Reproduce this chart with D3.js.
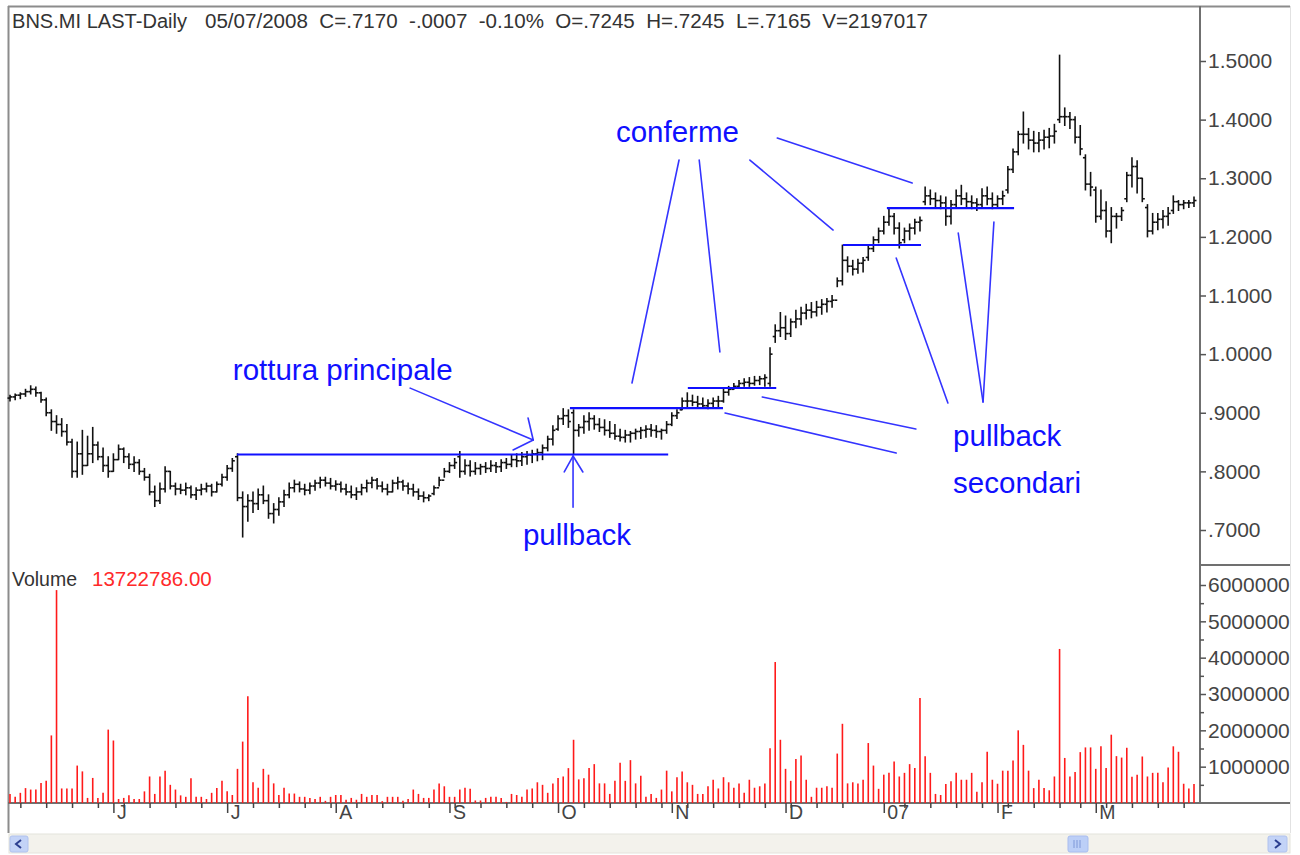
<!DOCTYPE html>
<html><head><meta charset="utf-8">
<script src="https://cdn.jsdelivr.net/npm/d3@7"></script>
<style>
body{margin:0;background:#fff;}
svg{display:block;font-family:"Liberation Sans",Arial,sans-serif;}
</style>
</head><body>
<svg id="c" width="1300" height="855"></svg>
<script>
// ---------- DATA (bar index 0 = 4 May 2006) ----------
const high = [
.930,.932,.934,.940,.946,.944,.935,.925,.905,.895,
.890,.880,.855,.850,.870,.860,.875,.850,.840,.825,
.830,.845,.840,.830,.825,.820,.805,.795,.775,.780,
.808,.800,.780,.778,.780,.775,.772,.778,.780,.778,
.782,.795,.810,.822,.830,.765,.760,.765,.770,.775,
.760,.745,.755,.768,.780,.785,.782,.778,.780,.785,
.790,.790,.788,.784,.782,.778,.775,.772,.778,.785,
.790,.788,.782,.778,.785,.790,.785,.780,.778,.770,
.765,.760,.775,.790,.805,.815,.822,.834,.820,.818,
.815,.812,.815,.818,.815,.820,.822,.828,.830,.832,
.834,.836,.838,.845,.860,.878,.895,.907,.905,.905,
.880,.895,.900,.895,.890,.888,.885,.880,.872,.870,
.868,.872,.875,.878,.880,.878,.872,.885,.900,.905,
.925,.934,.930,.928,.925,.922,.925,.928,.940,.945,
.950,.955,.958,.960,.962,.962,.965,1.011,1.050,1.071,
1.065,1.060,1.075,1.080,1.085,1.088,1.090,1.093,1.095,1.100,
1.130,1.186,1.166,1.160,1.162,1.165,1.185,1.200,1.215,1.235,
1.250,1.240,1.224,1.215,1.222,1.230,1.234,1.285,1.280,1.275,
1.270,1.268,1.262,1.280,1.288,1.275,1.270,1.265,1.282,1.285,
1.275,1.270,1.278,1.320,1.350,1.380,1.413,1.385,1.380,1.378,
1.382,1.385,1.392,1.510,1.420,1.412,1.405,1.390,1.340,1.310,
1.285,1.280,1.260,1.250,1.240,1.250,1.310,1.335,1.330,1.300,
1.255,1.240,1.240,1.245,1.250,1.270,1.262,1.262,1.262,1.268];
const low = [
.920,.922,.924,.928,.932,.928,.918,.895,.870,.865,
.860,.845,.790,.790,.795,.810,.815,.820,.800,.790,
.800,.820,.815,.805,.800,.795,.785,.760,.740,.745,
.765,.770,.760,.762,.760,.755,.752,.760,.765,.758,
.765,.775,.785,.800,.750,.688,.715,.730,.735,.745,
.720,.712,.725,.740,.755,.765,.765,.760,.762,.768,
.772,.775,.770,.768,.765,.760,.755,.752,.760,.765,
.772,.770,.765,.760,.765,.770,.768,.762,.758,.752,
.748,.750,.760,.775,.790,.798,.805,.790,.795,.792,
.795,.795,.798,.800,.798,.800,.805,.808,.808,.810,
.812,.815,.818,.820,.835,.845,.870,.880,.875,.829,
.860,.865,.870,.872,.868,.862,.858,.855,.852,.850,
.850,.855,.856,.858,.860,.858,.855,.865,.878,.890,
.905,.910,.912,.910,.908,.907,.909,.910,.918,.930,
.940,.942,.945,.945,.947,.948,.945,.945,1.020,1.030,
1.025,1.030,1.045,1.050,1.060,1.062,1.065,1.068,1.072,1.080,
1.115,1.118,1.140,1.135,1.138,1.140,1.160,1.175,1.190,1.205,
1.220,1.205,1.181,1.190,1.195,1.205,1.210,1.255,1.255,1.250,
1.248,1.220,1.222,1.250,1.255,1.250,1.248,1.245,1.250,1.255,
1.248,1.250,1.255,1.275,1.310,1.340,1.360,1.350,1.345,1.345,
1.350,1.352,1.360,1.395,1.390,1.385,1.360,1.340,1.280,1.270,
1.225,1.230,1.200,1.190,1.215,1.228,1.260,1.285,1.275,1.260,
1.200,1.205,1.212,1.215,1.220,1.240,1.245,1.248,1.250,1.252];
const open = [
.925,.927,.930,.932,.936,.940,.934,.922,.900,.885,
.880,.868,.850,.800,.830,.810,.830,.845,.825,.810,
.800,.820,.838,.825,.812,.815,.800,.790,.765,.750,
.770,.800,.775,.770,.768,.772,.760,.768,.770,.775,
.765,.778,.790,.805,.825,.755,.740,.750,.745,.760,
.750,.728,.735,.748,.760,.772,.778,.770,.768,.775,
.780,.785,.780,.775,.778,.770,.765,.760,.765,.772,
.780,.785,.775,.770,.765,.780,.782,.775,.770,.765,
.758,.755,.762,.772,.785,.800,.810,.825,.800,.810,
.800,.805,.808,.805,.810,.808,.815,.812,.820,.818,
.825,.828,.830,.832,.840,.855,.872,.890,.895,.900,
.870,.875,.885,.890,.880,.875,.870,.865,.860,.858,
.862,.865,.868,.870,.872,.870,.868,.870,.880,.895,
.905,.920,.920,.918,.915,.912,.916,.920,.920,.935,
.940,.945,.950,.952,.950,.955,.958,.950,1.030,1.040,
1.045,1.035,1.055,1.060,1.070,1.075,1.072,1.080,1.085,1.090,
1.092,1.125,1.160,1.150,1.145,1.155,1.165,1.180,1.195,1.210,
1.225,1.235,1.215,1.195,1.210,1.215,1.225,1.260,1.270,1.265,
1.262,1.258,1.235,1.255,1.270,1.265,1.260,1.258,1.255,1.270,
1.265,1.255,1.265,1.280,1.315,1.345,1.375,1.375,1.365,1.360,
1.365,1.370,1.372,1.400,1.405,1.405,1.400,1.370,1.335,1.290,
1.280,1.235,1.245,1.210,1.235,1.235,1.265,1.305,1.320,1.300,
1.250,1.210,1.225,1.230,1.235,1.245,1.260,1.255,1.258,1.258];
const close = [
.927,.930,.932,.936,.940,.934,.922,.900,.885,.880,
.868,.850,.800,.830,.810,.830,.845,.825,.810,.800,
.820,.838,.825,.812,.815,.800,.790,.765,.750,.770,
.800,.775,.770,.768,.772,.760,.768,.770,.775,.765,
.778,.790,.805,.818,.755,.740,.750,.745,.760,.750,
.728,.735,.748,.760,.772,.778,.770,.768,.775,.780,
.785,.780,.775,.778,.770,.765,.760,.765,.772,.780,
.785,.775,.770,.765,.780,.782,.775,.770,.765,.758,
.755,.758,.772,.785,.800,.810,.815,.800,.810,.800,
.805,.808,.805,.810,.808,.815,.812,.820,.818,.825,
.828,.830,.832,.840,.855,.870,.890,.895,.885,.870,
.875,.885,.890,.880,.875,.870,.865,.860,.858,.862,
.865,.868,.870,.872,.870,.868,.870,.880,.895,.900,
.920,.920,.918,.915,.912,.916,.920,.920,.935,.940,
.945,.950,.952,.950,.955,.958,.960,1.000,1.040,1.045,
1.035,1.055,1.060,1.070,1.075,1.072,1.080,1.085,1.090,1.092,
1.125,1.160,1.150,1.145,1.155,1.160,1.180,1.195,1.210,1.225,
1.235,1.215,1.190,1.210,1.215,1.225,1.228,1.270,1.265,1.262,
1.258,1.235,1.255,1.270,1.265,1.260,1.258,1.255,1.270,1.265,
1.255,1.265,1.270,1.315,1.345,1.375,1.375,1.365,1.360,1.365,
1.370,1.372,1.380,1.405,1.405,1.400,1.370,1.350,1.290,1.285,
1.235,1.245,1.210,1.235,1.235,1.245,1.305,1.320,1.300,1.265,
1.210,1.225,1.230,1.235,1.240,1.260,1.255,1.258,1.258,1.262];
// volume, millions of shares
const volume = [
.25,.17,.28,.41,.37,.37,.55,.61,1.86,5.86,
.40,.40,.40,1.03,.87,.14,.69,.14,.28,2.02,
1.72,.11,.14,.21,.11,.11,.32,.73,.25,.73,
.89,.50,.37,.21,.17,.68,.17,.17,.11,.28,
.41,.61,.32,.22,.94,1.69,2.94,.57,.42,.94,
.78,.54,.22,.42,.26,.26,.17,.17,.14,.11,
.17,.06,.17,.22,.22,.09,.14,.09,.25,.17,
.22,.22,.05,.17,.17,.17,.06,.11,.37,.25,
.14,.14,.37,.54,.46,.17,.17,.37,.42,.39,
.07,.07,.14,.17,.17,.14,.03,.25,.22,.17,
.37,.40,.57,.50,.28,.54,.69,.73,.96,1.74,
.65,.68,.96,1.07,.54,.54,.25,.61,1.11,.61,
1.18,.54,.75,.17,.25,.14,.37,.89,.32,.71,
.87,.57,.50,.25,.25,.46,.64,.40,.71,.57,
.42,.54,.28,.64,.42,.46,.54,1.51,3.88,1.74,
.94,.61,1.21,1.31,.64,.17,.42,.42,.46,.42,
1.36,2.18,.54,.57,.54,.64,1.65,1.03,.39,.78,
.83,1.14,.73,.83,1.07,.96,2.89,1.29,.83,.25,
.22,.52,.60,.83,.64,.64,.83,.31,.57,1.41,
.64,.53,.89,.89,1.17,2.00,1.60,.89,.41,.64,
.41,.35,.73,4.24,1.24,.73,.85,1.40,1.53,1.53,
.94,1.56,.96,1.88,1.29,1.25,1.52,.72,.78,1.28,
.73,.83,.83,.57,.98,1.56,1.41,.53,.40,.52];

const monthTickIdx = [20, 42, 63, 85, 106, 128, 150, 169, 191, 210];
const monthLabels  = ["J","J","A","S","O","N","D","07","F","M"];
const weekTickIdx  = [2,7,12,17,22,27,32,37,47,52,57,62,67,72,76,81,86,91,96,101,
                      111,116,121,126,131,136,141,146,151,156,161,173,178,183,188,
                      193,198,203,207,212,217,222,227];
const priceTicks = [0.7,0.8,0.9,1.0,1.1,1.2,1.3,1.4,1.5];
const priceTickLabels = [".7000",".8000",".9000","1.0000","1.1000","1.2000","1.3000","1.4000","1.5000"];
const volTicks = [1,2,3,4,5,6];
const volTickLabels = ["1000000","2000000","3000000","4000000","5000000","6000000"];
const volMinorTicks = [0.5,1.5,2.5,3.5,4.5,5.5];

const titleName = "BNS.MI LAST-Daily";
const titleQuote = "05/07/2008  C=.7170  -.0007  -0.10%  O=.7245  H=.7245  L=.7165  V=2197017";
const volumeTitle = "Volume";
const volumeValue = "13722786.00";

// annotation levels: [fromIdx, toIdx, price]
const levels = [[43.9,127.3,0.8288],[108.3,137.9,0.908],[131.1,148.2,0.9422],[161.1,176.2,1.1861],[169.6,194.2,1.2492]];
// pointer segments: [i1,p1,i2,p2]
const pointers = [
 [77.4,0.942,101.2,0.8535],[100.2,0.891,101.2,0.8535],[97.3,0.8365,101.2,0.8535],
 [108.9,0.739,108.9,0.8262],[107.2,0.799,108.9,0.8262],[110.8,0.799,108.9,0.8262],
 [129.4,1.3311,120.3,0.9507],[133.3,1.3311,137.3,1.0036],[143.1,1.3311,159.2,1.2117],[148.4,1.3687,174.5,1.2919],
 [171.4,1.164,181.4,0.9166],[183.4,1.2066,188.2,0.9183],[190.3,1.2254,188.2,0.9183],
 [145.5,0.9269,175.2,0.8723],[138.3,0.8996,171.4,0.8313]];
const notes = [
 ["rottura principale",43.1,0.9559],["pullback",99.2,0.6744],["conferme",117.2,1.3618],
 ["pullback",182.4,0.8433],["secondari",182.4,0.7631]];

// ---------- DRAW ----------
const svg = d3.select("#c");
const N = high.length;
const x = d3.scaleLinear().domain([0, 229]).range([10, 1194]);
const y = d3.scaleLinear().domain([0.7, 1.5]).range([530, 61]);
const yv = d3.scaleLinear().domain([0, 6]).range([803, 585]);
const axisX = 1200, rightEdge = 1290;
const FONT = "Liberation Sans, Arial, sans-serif";

svg.append("rect").attr("width",1300).attr("height",855).attr("fill","#fff");
svg.append("defs").append("clipPath").attr("id","clipR")
  .append("rect").attr("x",0).attr("y",0).attr("width",rightEdge).attr("height",855);

// frame
const g0 = svg.append("g");
g0.append("line").attr("x1",8.5).attr("x2",8.5).attr("y1",6).attr("y2",833).attr("stroke","#8c8c8c").attr("stroke-width",2);
g0.append("line").attr("x1",8).attr("x2",rightEdge).attr("y1",6.5).attr("y2",6.5).attr("stroke","#8c8c8c").attr("stroke-width",2);
g0.append("line").attr("x1",rightEdge+0.5).attr("x2",rightEdge+0.5).attr("y1",6).attr("y2",833).attr("stroke","#e2e2e2");
g0.append("line").attr("x1",axisX).attr("x2",axisX).attr("y1",6).attr("y2",803).attr("stroke","#707070").attr("stroke-width",2);
g0.append("line").attr("x1",axisX).attr("x2",rightEdge).attr("y1",565).attr("y2",565).attr("stroke","#707070").attr("stroke-width",2);
g0.append("line").attr("x1",8).attr("x2",rightEdge).attr("y1",803).attr("y2",803).attr("stroke","#707070").attr("stroke-width",2);

// title
svg.append("text").attr("x",12).attr("y",28).attr("font-size",19.5).attr("fill","#333")
  .attr("textLength",175).attr("lengthAdjust","spacingAndGlyphs").text(titleName);
svg.append("text").attr("x",205).attr("y",28).attr("font-size",19.5).attr("fill","#333")
  .attr("xml:space","preserve").style("white-space","pre")
  .attr("textLength",723).attr("lengthAdjust","spacingAndGlyphs").text(titleQuote);

// price axis
const pa = svg.append("g").attr("transform",`translate(${axisX},0)`)
  .call(d3.axisRight(y).tickValues(priceTicks).tickSize(6).tickPadding(2)
        .tickFormat((d,i)=>priceTickLabels[i]));
pa.select(".domain").remove();
pa.selectAll("line").attr("stroke","#555").attr("stroke-width",1.5);
pa.selectAll("text").attr("font-size",21).attr("fill","#444").attr("font-family",FONT);

// volume axis
const va = svg.append("g").attr("transform",`translate(${axisX},0)`).attr("clip-path","url(#clipR)");
const vaG = va.append("g").call(d3.axisRight(yv).tickValues(volTicks).tickSize(6).tickPadding(2)
        .tickFormat((d,i)=>volTickLabels[i]));
vaG.select(".domain").remove();
vaG.selectAll("line").attr("stroke","#555").attr("stroke-width",1.5);
vaG.selectAll("text").attr("font-size",21).attr("fill","#444").attr("font-family",FONT);
const vaM = va.append("g").call(d3.axisRight(yv).tickValues(volMinorTicks).tickSize(4).tickFormat(""));
vaM.select(".domain").remove();
vaM.selectAll("line").attr("stroke","#555").attr("stroke-width",1.5);

// x axis
const xaW = svg.append("g").attr("transform","translate(0,803)")
  .call(d3.axisBottom(x).tickValues(weekTickIdx).tickSize(5).tickFormat(""));
xaW.select(".domain").remove();
xaW.selectAll("line").attr("stroke","#444").attr("stroke-width",1.5);
const xaM = svg.append("g").attr("transform","translate(0,803)")
  .call(d3.axisBottom(x).tickValues(monthTickIdx).tickSize(10).tickPadding(2)
        .tickFormat((d,i)=>monthLabels[i]));
xaM.select(".domain").remove();
xaM.selectAll("line").attr("stroke","#444").attr("stroke-width",1.5);
xaM.selectAll("text").attr("font-size",19.5).attr("fill","#444").attr("text-anchor","start")
  .attr("dx",3).attr("dy",4).attr("font-family",FONT);

// volume bars
svg.append("g").selectAll("line").data(volume).join("line")
  .attr("x1",(d,i)=>x(i)).attr("x2",(d,i)=>x(i))
  .attr("y1",yv(0)).attr("y2",d=>yv(d))
  .attr("stroke","#ff1a1a").attr("stroke-width",1.6);

// volume labels
svg.append("text").attr("x",12).attr("y",586).attr("font-size",19.5).attr("fill","#333").text(volumeTitle);
svg.append("text").attr("x",92).attr("y",586).attr("font-size",20.5).attr("fill","#ff2a2a").text(volumeValue);

// price bars
const bars = svg.append("g").attr("stroke","#111").attr("stroke-width",1.6);
const idx = d3.range(N);
bars.selectAll("line.hl").data(idx).join("line").attr("class","hl")
  .attr("x1",i=>x(i)).attr("x2",i=>x(i)).attr("y1",i=>y(high[i])-0.5).attr("y2",i=>y(low[i])+0.5);
bars.selectAll("line.o").data(idx).join("line").attr("class","o")
  .attr("x1",i=>x(i)-2.5).attr("x2",i=>x(i)).attr("y1",i=>y(open[i])).attr("y2",i=>y(open[i]));
bars.selectAll("line.c").data(idx).join("line").attr("class","c")
  .attr("x1",i=>x(i)).attr("x2",i=>x(i)+2.5).attr("y1",i=>y(close[i])).attr("y2",i=>y(close[i]));

// annotations
const blue = "#1010ff";
svg.append("g").selectAll("line").data(levels).join("line")
  .attr("x1",d=>x(d[0])).attr("x2",d=>x(d[1])).attr("y1",d=>y(d[2])).attr("y2",d=>y(d[2]))
  .attr("stroke",blue).attr("stroke-width",2.2);
svg.append("g").selectAll("line").data(pointers).join("line")
  .attr("x1",d=>x(d[0])).attr("y1",d=>y(d[1])).attr("x2",d=>x(d[2])).attr("y2",d=>y(d[3]))
  .attr("stroke","#3434ff").attr("stroke-width",1.6).attr("stroke-linecap","round");
svg.append("g").selectAll("text").data(notes).join("text")
  .attr("x",d=>x(d[1])).attr("y",d=>y(d[2])).attr("font-size",29.5).attr("fill",blue).text(d=>d[0]);

// scrollbar
const sb = svg.append("g");
sb.append("rect").attr("x",9).attr("y",834).attr("width",rightEdge-9).attr("height",19).attr("fill","#f3f2ec").attr("stroke","#e4e3dc");
sb.append("rect").attr("x",10).attr("y",836).attr("width",18).attr("height",16).attr("rx",2).attr("fill","#c3d3f7").attr("stroke","#b0c2ee");
sb.append("path").attr("d","M21,840 L16,844 L21,848").attr("fill","none").attr("stroke","#2a3d8f").attr("stroke-width",2);
sb.append("rect").attr("x",1268).attr("y",836).attr("width",19).attr("height",16).attr("rx",2).attr("fill","#c3d3f7").attr("stroke","#b0c2ee");
sb.append("path").attr("d","M1275,840 L1280,844 L1275,848").attr("fill","none").attr("stroke","#2a3d8f").attr("stroke-width",2);
sb.append("rect").attr("x",1068).attr("y",836).attr("width",20).attr("height",16).attr("rx",2).attr("fill","#bccff7").attr("stroke","#a9bdef");
[1074,1077,1080].forEach(v=>sb.append("line").attr("x1",v).attr("x2",v).attr("y1",840).attr("y2",848).attr("stroke","#7f98d8"));
</script>
</body></html>
